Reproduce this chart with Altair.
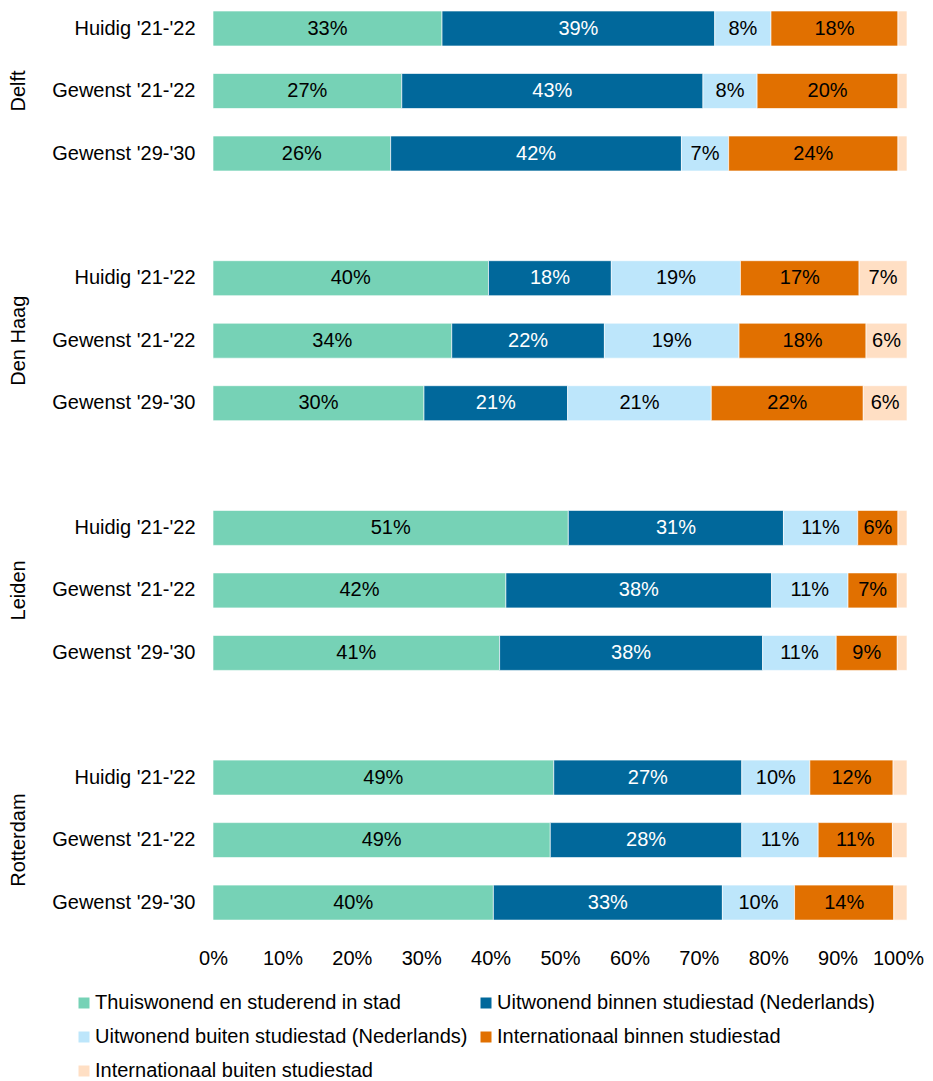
import altair as alt
import pandas as pd

cities = ["Delft", "Den Haag", "Leiden", "Rotterdam"]
periods = ["Huidig '21-'22", "Gewenst '21-'22", "Gewenst '29-'30"]
categories = [
    "Thuiswonend en studerend in stad",
    "Uitwonend binnen studiestad (Nederlands)",
    "Uitwonend buiten studiestad (Nederlands)",
    "Internationaal binnen studiestad",
    "Internationaal buiten studiestad",
]
colors = ["#76D2B6", "#01689B", "#BDE6FB", "#E17000", "#FFDFC4"]

# one value per (city, period), in the order of cities x periods
thuiswonend = [33.0, 27.2, 25.6, 39.7, 34.4, 30.4, 51.2, 42.2, 41.3, 49.1, 48.6, 40.4]
uit_binnen = [39.3, 43.4, 41.9, 17.7, 22.0, 20.7, 31.0, 38.3, 37.9, 27.1, 27.6, 33.0]
uit_buiten = [8.1, 7.8, 6.8, 18.6, 19.4, 20.7, 10.7, 11.0, 10.6, 9.8, 11.0, 10.4]
int_binnen = [18.3, 20.3, 24.4, 17.1, 18.3, 21.9, 5.8, 7.1, 8.8, 12.0, 10.7, 14.3]
int_buiten = [1.3, 1.3, 1.3, 6.9, 5.9, 6.3, 1.3, 1.4, 1.4, 2.0, 2.1, 1.9]

series = [thuiswonend, uit_binnen, uit_buiten, int_binnen, int_buiten]
rows = []
for ci, cat in enumerate(categories):
    k = 0
    for city in cities:
        for per in periods:
            rows.append({"city": city, "period": per, "category": cat,
                         "order": ci, "value": series[ci][k]})
            k += 1
df = pd.DataFrame(rows)

FONT = "Liberation Sans"

base = alt.Chart(df)

y_enc = alt.Y(
    "period:N", sort=periods,
    scale=alt.Scale(paddingInner=0.44, paddingOuter=0.048),
    axis=alt.Axis(title=None, ticks=False, domain=False, labelFontSize=20,
                  labelPadding=17, labelColor="black", labelFont=FONT),
)

bars = base.mark_bar(stroke="white", strokeWidth=0.8, strokeOpacity=0.8).encode(
    x=alt.X(
        "value:Q", stack="zero",
        scale=alt.Scale(domain=[0, 100], nice=False),
        axis=alt.Axis(values=list(range(0, 101, 10)), labelExpr="datum.value + '%'",
                      title=None, grid=False, domain=False, ticks=False,
                      labelFontSize=20, labelPadding=24, labelColor="black",
                      labelFont=FONT, labelOverlap=False, labelFlush=False,
                      labelOffset={"condition": {"test": "datum.value == 100", "value": -9},
                                   "value": 0}),
    ),
    y=y_enc,
    color=alt.Color(
        "category:N", sort=categories,
        scale=alt.Scale(domain=categories, range=colors),
        legend=alt.Legend(
            title=None, orient="none", legendX=-139, legendY=985,
            columns=2, direction="horizontal", symbolType="square",
            symbolSize=121, symbolStrokeWidth=0, labelFontSize=20,
            labelFont=FONT, labelColor="black", labelLimit=0,
            rowPadding=14, columnPadding=8, labelOffset=1,
        ),
    ),
    order=alt.Order("order:Q"),
)

text = base.transform_window(
    cum="sum(value)", groupby=["city", "period"],
    sort=[alt.SortField("order")], frame=[None, 0],
).transform_calculate(
    mid="datum.cum - datum.value / 2",
    label="format(datum.value, '.0f') + '%'",
).transform_filter("datum.value >= 5").mark_text(fontSize=20, font=FONT).encode(
    x=alt.X("mid:Q"),
    y=alt.Y("period:N", sort=periods),
    text="label:N",
    color=alt.condition(
        "datum.category == 'Uitwonend binnen studiestad (Nederlands)'",
        alt.value("white"), alt.value("black"),
    ),
)

chart = alt.layer(bars, text).properties(width=694, height=166).facet(
    row=alt.Row("city:N", sort=cities,
                header=alt.Header(title=None, labelAngle=-90, labelOrient="left",
                                  labelFontSize=20, labelFont=FONT,
                                  labelColor="black", labelPadding=13)),
    spacing=83.7,
).properties(
    padding={"top": 0, "left": 0, "right": 0, "bottom": 0}
).configure(font=FONT).configure_view(stroke=None)

chart.save("out.html", embed_options={"renderer": "svg", "actions": False})
